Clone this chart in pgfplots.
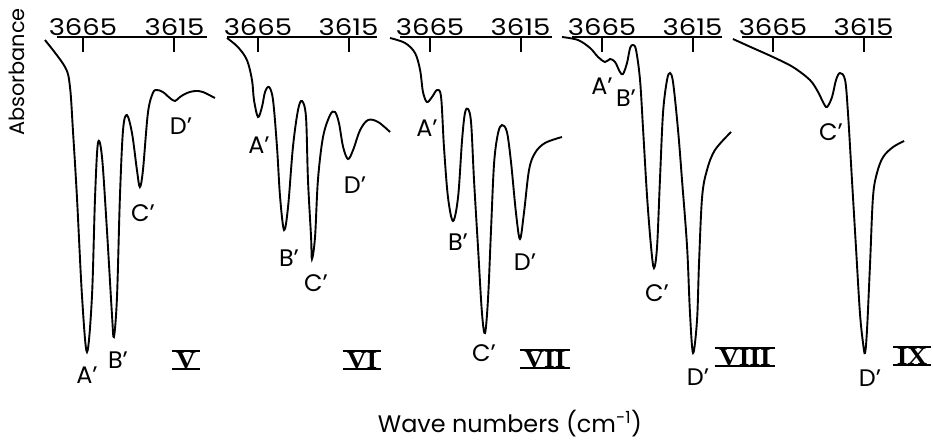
\documentclass[border=0pt]{standalone}
\usepackage{pgfplots}
\pgfplotsset{compat=1.18}
\usepackage{fontspec}
\setmainfont{Poppins}
\newfontfamily\numfont{Liberation Serif}
\pgfplotsset{ir/.style={
  scale only axis, height=333bp, anchor=north west,
  x dir=reverse, y dir=reverse, ymin=0, ymax=333,
  axis x line=top, axis y line=none, clip=false, enlargelimits=false,
  xtick={3615,3665}, tick align=inside, major tick length=15bp,
  axis line style={line width=2.2bp,-},
  every tick/.style={black, line width=2bp},
  xticklabel style={font=\fontsize{23}{23}\selectfont, inner sep=1.5bp},
  xticklabel={\scalebox{1.2}[1]{\pgfmathprintnumber{\tick}}},
  /pgf/number format/1000 sep={},
  /pgf/number format/assume math mode=true,
}}
\pgfplotsset{sp/.style={black, line width=1.9bp, smooth, tension=0.55, mark=none}}
\newcommand\pk[3]{\node[font=\fontsize{24}{24}\selectfont, inner sep=0pt] at (#1bp,-#2bp) {#3};}
\newcommand\rn[3]{\node[inner xsep=4bp, inner ysep=0.6bp, text depth=0pt, font=\numfont\bfseries\fontsize{25}{25}\selectfont] (n) at (#1bp,-#2bp) {\scalebox{1.1}[1]{#3}};
  \draw[line width=2.2bp] (n.north west)--(n.north east);
  \draw[line width=2.2bp] (n.south west)--(n.south east);}
\begin{document}
\begin{tikzpicture}
\useasboundingbox (0,0) rectangle (933bp,-444bp);
% Panel V
\begin{axis}[ir, at={(57bp,-37bp)}, width=150bp, xmin=3597.2, xmax=3679.2]
\addplot[sp] coordinates {(3685.8,3) (3674.8,30) (3672.1,50) (3670.5,93) (3668.3,160) (3665.5,260) (3662.8,315) (3660.1,260) (3658.4,160) (3656.8,106) (3654.6,120) (3651.9,193) (3649.2,276) (3648.1,300) (3646.4,260) (3644.8,160) (3643.1,93) (3641.0,78) (3638.2,96) (3635.5,133) (3633.9,150) (3632.2,133) (3629.5,76) (3626.8,56) (3624.6,53) (3621.3,55) (3617.5,61) (3614.7,64) (3612.0,60) (3608.2,56) (3603.8,54) (3599.4,55) (3592.9,61)};
\end{axis}
% Panel VI
\begin{axis}[ir, at={(227bp,-37bp)}, width=150bp, xmin=3599.3, xmax=3682.1]
\addplot[sp] coordinates {(3682.1,1) (3676.1,10) (3671.1,23) (3668.3,43) (3667.2,63) (3665.0,80) (3662.8,70) (3661.1,55) (3658.9,50) (3656.7,63) (3654.5,110) (3652.8,160) (3650.6,193) (3648.4,170) (3645.7,110) (3642.9,73) (3640.7,64) (3638.5,80) (3637.4,143) (3635.7,200) (3635.2,222) (3633.5,200) (3631.9,143) (3629.1,100) (3625.2,78) (3622.5,75) (3620.3,86) (3618.0,110) (3615.3,122) (3612.5,113) (3608.6,93) (3604.2,83) (3598.7,85) (3592.1,95)};
\end{axis}
% Panel VII
\begin{axis}[ir, at={(400bp,-37bp)}, width=152bp, xmin=3597.6, xmax=3681.6]
\addplot[sp] coordinates {(3687.1,1) (3678.8,6) (3673.3,16) (3670.5,33) (3668.9,55) (3666.7,65) (3663.9,60) (3661.1,53) (3658.9,60) (3657.3,110) (3655.1,160) (3652.3,184) (3649.5,160) (3647.3,103) (3645.7,76) (3644.0,72) (3642.3,86) (3640.7,143) (3638.5,210) (3636.3,276) (3634.6,296) (3632.9,260) (3631.3,193) (3629.6,126) (3627.4,96) (3625.2,88) (3622.5,95) (3620.2,126) (3617.5,176) (3615.3,202) (3613.1,176) (3610.3,133) (3607.0,116) (3601.5,106) (3592.1,100)};
\end{axis}
% Panel VIII
\begin{axis}[ir, at={(572bp,-37bp)}, width=150bp, xmin=3598.7, xmax=3681.6]
\addplot[sp] coordinates {(3687.1,0) (3678.3,3) (3671.6,11) (3667.2,20) (3663.3,25) (3660.6,22) (3657.8,25) (3655.1,35) (3653.4,37) (3651.2,26) (3649.5,11) (3647.9,8) (3646.2,13) (3644.0,43) (3642.3,93) (3640.1,160) (3637.9,210) (3636.3,231) (3634.6,210) (3633.0,143) (3631.3,76) (3629.1,43) (3627.4,36) (3625.7,46) (3623.0,93) (3620.8,143) (3618.0,210) (3616.4,276) (3614.7,316) (3612.5,283) (3611.4,226) (3609.7,160) (3607.0,133) (3602.6,113) (3593.7,95)};
\end{axis}
% Panel IX
\begin{axis}[ir, at={(742bp,-37bp)}, width=150bp, xmin=3599.3, xmax=3682.1]
\addplot[sp] coordinates {(3687.1,2) (3676.1,11) (3665.0,20) (3654.0,30) (3644.6,43) (3640.1,55) (3637.4,65) (3635.2,70) (3632.4,60) (3630.2,43) (3628.0,36) (3625.2,43) (3623.6,76) (3621.4,143) (3619.2,210) (3617.0,276) (3615.3,306) (3614.2,316) (3613.1,293) (3611.4,226) (3609.8,160) (3607.6,136) (3604.2,120) (3598.7,110) (3592.6,104)};
\end{axis}
% peak labels
\pk{87}{375}{A'} \pk{118}{360}{B'} \pk{143}{213}{C'} \pk{181}{126}{D'}
\pk{259}{145}{A'} \pk{289}{258}{B'} \pk{316}{283}{C'} \pk{355}{185}{D'}
\pk{427}{128}{A'} \pk{458}{242}{B'} \pk{484}{353}{C'} \pk{525}{262}{D'}
\pk{602}{86}{A'} \pk{626}{98}{B'} \pk{657}{293}{C'} \pk{698}{377}{D'}
\pk{831}{132}{C'} \pk{870}{378}{D'}
% roman numerals
\rn{186}{360}{V} \rn{362}{360}{VI} \rn{545}{359}{VII} \rn{745}{357}{VIII} \rn{912}{356}{IX}
% axis titles
\node[rotate=90, font=\fontsize{21}{21}\selectfont, inner sep=0pt] at (17bp,-72bp) {Absorbance};
\node[font=\fontsize{24}{24}\selectfont, inner sep=0pt] at (510bp,-424bp) {Wave numbers (cm\textsuperscript{-1})};
\end{tikzpicture}
\end{document}
